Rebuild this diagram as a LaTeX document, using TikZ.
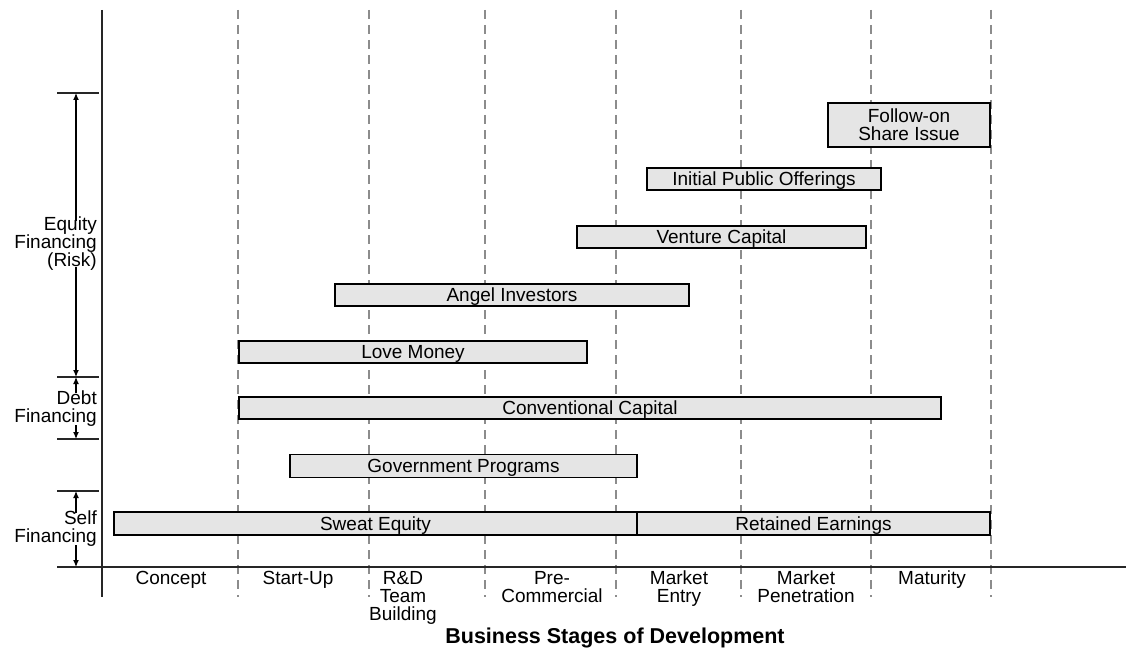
\documentclass[tikz,border=0pt]{standalone}
\usepackage{fontspec}
\setmainfont{Liberation Sans}
\usetikzlibrary{arrows.meta}
\begin{document}
\begin{tikzpicture}[x=1pt,y=-1pt,
  txt/.style={font=\fontsize{19}{18}\selectfont, inner sep=0pt},
  bar/.style={draw=black, line width=1.1pt, fill=black!10, inner sep=0pt,
    font=\fontsize{19}{18}\selectfont, align=center},
  onebar/.style={bar, text height=13.6pt, text depth=0pt},
  stage/.style={draw=black!45, line width=1.8pt, dash pattern=on 9pt off 6pt},
  axis/.style={draw=black!85, line width=1.6pt},
  tick/.style={draw=black!85, line width=1.2pt},
  arr/.style={draw=black, line width=1.2pt, -{Latex[length=7pt,width=6pt]}},
  stg/.style={font=\fontsize{19}{18}\selectfont, align=center, inner sep=0pt, anchor=north}]
\useasboundingbox (0,0) rectangle (1126,650);
% dashed stage separators
\foreach \x/\n in {238/d1,369/d2,485/d3,616/d4,741/d5,871/d6,991/d7}{
  \coordinate (\n t) at (\x,10);
  \coordinate (\n b) at (\x,597);
  \draw[stage] (\n t) -- (\n b);
}
% axes
\coordinate (vaT) at (102,10);
\coordinate (vaB) at (102,597);
\coordinate (haL) at (92,567);
\coordinate (haR) at (1126,567);
\draw[axis] (vaT) -- (vaB);
\draw[axis] (haL) -- (haR);
% left ticks
\foreach \y/\n in {93/t1,377/t2,439/t3,491/t4,567/t5}{
  \coordinate (\n l) at (57,\y);
  \coordinate (\n r) at (99,\y);
  \coordinate (\n) at (76,\y);
  \draw[tick] (\n l) -- (\n r);
}
% left labels
\node[txt, align=right, anchor=east] (eq) at (97,244) {Equity\\Financing\\(Risk)};
\node[txt, align=right, anchor=east] (debt) at (97,409) {Debt\\Financing};
\node[txt, align=right, anchor=east] (self) at (97,529) {Self\\Financing};
\draw[arr] ([yshift=-4pt]eq.north -| t1) -- (t1);
\draw[arr] ([yshift=4pt]eq.south -| t1) -- (t2);
\draw[arr] ([yshift=-2pt]debt.north -| t2) -- (t2);
\draw[arr] ([yshift=2pt]debt.south -| t2) -- (t3);
\draw[arr] ([yshift=-2pt]self.north -| t4) -- (t4);
\draw[arr] ([yshift=2pt]self.south -| t4) -- (t5);
% bars
\node[bar, minimum width=162pt, minimum height=44pt] (fo) at (909,125) {Follow-on\\Share Issue};
\node[onebar, minimum width=234pt, minimum height=22pt] (ipo) at (764,179) {Initial Public Offerings};
\node[onebar, minimum width=289pt, minimum height=22pt] (vc) at (721.5,237) {Venture Capital};
\node[onebar, minimum width=354pt, minimum height=22pt] (ai) at (512,295) {Angel Investors};
\node[onebar, minimum width=348pt, minimum height=22pt] (lm) at (413,352) {Love Money};
\node[onebar, minimum width=702pt, minimum height=22pt] (cc) at (590,408) {Conventional Capital};
\node[onebar, minimum width=347pt, minimum height=23pt] (gp) at (463.5,466) {Government Programs};
\node[onebar, minimum width=523pt, minimum height=23pt] (se) at (375.5,523.5) {Sweat Equity};
\node[onebar, minimum width=353pt, minimum height=23pt] (re) at (813.5,523.5) {Retained Earnings};
% stage labels
\node[stg] (s1) at (171,571) {Concept};
\node[stg] (s2) at (298,571) {Start-Up};
\node[stg] (s3) at (403,571) {R\&D\\Team\\Building};
\node[stg] (s4) at (552,571) {Pre-\\Commercial};
\node[stg] (s5) at (679,571) {Market\\Entry};
\node[stg] (s6) at (806,571) {Market\\Penetration};
\node[stg] (s7) at (932,571) {Maturity};
\node[font=\fontsize{21.5}{22}\selectfont\bfseries, inner sep=0pt] (title) at (615,638) {Business Stages of Development};
\end{tikzpicture}
\end{document}
